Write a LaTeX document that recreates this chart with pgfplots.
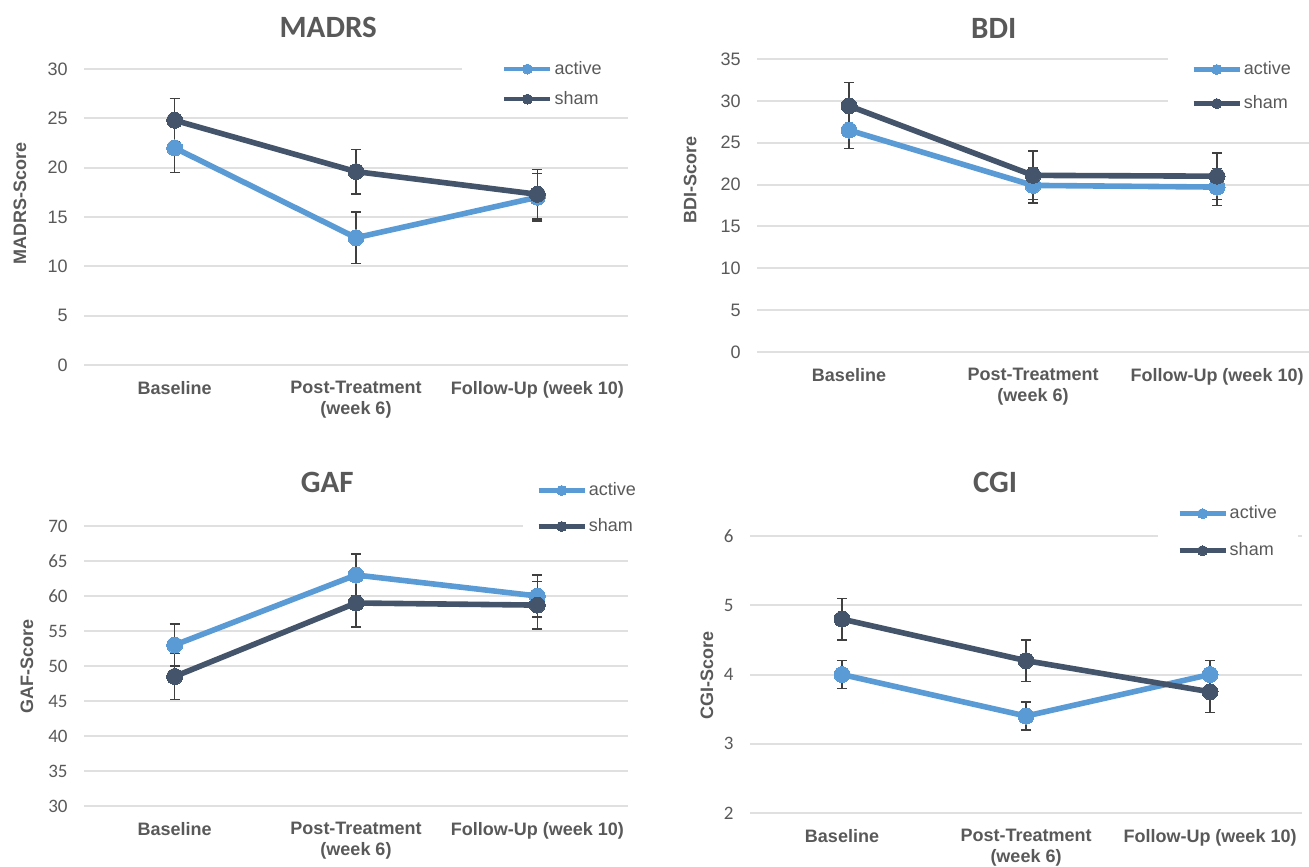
\documentclass[border=0pt]{standalone}
\usepackage{fontspec}
\setmainfont{Liberation Sans}
\newfontfamily\carlito{Carlito}
\usepackage{pgfplots}
\pgfplotsset{compat=1.18}
\definecolor{act}{HTML}{5B9BD5}
\definecolor{sham}{HTML}{44546A}
\definecolor{txt}{HTML}{595959}
\definecolor{grd}{HTML}{E0E0E0}
\definecolor{err}{HTML}{404040}
\pgfplotsset{
 panel/.style={
  scale only axis, anchor=south west,
  xmin=-0.5, xmax=2.5,
  xtick={0,1,2},
  xticklabels={Baseline, Post-Treatment\\(week 6), Follow-Up (week 10)},
  axis line style={draw=none},
  major tick length=0pt,
  ymajorgrids, grid style={grd, line width=1pt},
  xticklabel style={font=\fontsize{9}{10.5}\selectfont\bfseries, text=txt, align=center, inner sep=0pt, yshift=-8pt},
  yticklabel style={text=txt, inner sep=0pt, xshift=-8pt},
  title style={font=\carlito\bfseries\fontsize{15.5}{18}\selectfont, text=txt, anchor=center, inner sep=0pt},
  ylabel style={font=\bfseries\fontsize{9}{10}\selectfont, text=txt, anchor=center, inner sep=0pt},
  legend style={draw=none, fill=white, font=\fontsize{9}{10}\selectfont, text=txt, anchor=center, legend cell align=left, inner ysep=4pt, nodes={inner sep=1pt}},
  legend image code/.code={\draw[#1, line width=2.2pt, mark size=2.5pt, mark repeat=2, mark phase=2] plot coordinates {(0pt,0pt) (11.5pt,0pt) (23pt,0pt)};},
  /pgf/number format/assume math mode=true,
 },
 series/.style={line width=2.8pt, mark=*, mark size=4pt, mark options={solid, line width=0pt},
  error bars/.cd, y dir=both, y explicit,
  error bar style={color=err, line width=0.8pt},
  error mark options={rotate=90, color=err, line width=0.8pt, mark size=2.5pt}},
}
\begin{document}
\begin{tikzpicture}
\useasboundingbox (0,0) rectangle (654.5pt,433pt);
% MADRS
\begin{axis}[panel, at={(42pt,250.5pt)}, width=272pt, height=148pt,
  ymin=0, ymax=30, ytick={0,5,...,30},
  yticklabel style={font=\fontsize{9}{10}\selectfont},
  title={MADRS}, title style={at={(axis description cs:0.449,1)}, yshift=15pt},
  ylabel={MADRS-Score}, ylabel style={at={(axis description cs:-0.118,0.547)}},
  legend style={at={(axis description cs:0.862,0.949)}, inner xsep=20pt, row sep=5pt}]
\addplot[act, series] coordinates {(0,22.0) +- (0,2.5) (1,12.9) +- (0,2.6) (2,17.0) +- (0,2.4)};
\addplot[sham, series] coordinates {(0,24.8) +- (0,2.2) (1,19.6) +- (0,2.25) (2,17.3) +- (0,2.5)};
\legend{active,sham}
\end{axis}
% BDI
\begin{axis}[panel, at={(378.5pt,257pt)}, width=276pt, height=146.5pt,
  ymin=0, ymax=35, ytick={0,5,...,35},
  yticklabel style={font=\fontsize{9}{10}\selectfont},
  title={BDI}, title style={at={(axis description cs:0.429,1)}, yshift=9.5pt},
  ylabel={BDI-Score}, ylabel style={at={(axis description cs:-0.121,0.587)}},
  legend style={at={(axis description cs:0.879,0.906)}, inner xsep=12pt, row sep=7pt}]
\addplot[act, series] coordinates {(0,26.5) +- (0,2.2) (1,19.9) +- (0,2.1) (2,19.7) +- (0,2.2)};
\addplot[sham, series] coordinates {(0,29.4) +- (0,2.8) (1,21.1) +- (0,2.9) (2,21.0) +- (0,2.8)};
\legend{active,sham}
\end{axis}
% GAF
\begin{axis}[panel, at={(42pt,30pt)}, width=272pt, height=140pt,
  ymin=30, ymax=70, ytick={30,35,...,70},
  yticklabel style={font=\carlito\fontsize{9.5}{11}\selectfont},
  title={GAF}, title style={at={(axis description cs:0.447,1)}, yshift=16pt},
  ylabel={GAF-Score}, ylabel style={at={(axis description cs:-0.105,0.5)}},
  legend style={at={(axis description cs:0.925,1.0625)}, inner xsep=6.5pt, row sep=8pt}]
\addplot[act, series] coordinates {(0,53.0) +- (0,3.0) (1,63.0) +- (0,3.0) (2,60.0) +- (0,3.0)};
\addplot[sham, series] coordinates {(0,48.5) +- (0,3.3) (1,59.0) +- (0,3.4) (2,58.7) +- (0,3.4)};
\legend{active,sham}
\end{axis}
% CGI
\begin{axis}[panel, at={(375pt,26.5pt)}, width=276pt, height=138.5pt,
  ymin=2, ymax=6, ytick={2,3,...,6},
  yticklabel style={font=\carlito\fontsize{9.5}{11}\selectfont},
  title={CGI}, title style={at={(axis description cs:0.444,1)}, yshift=21pt},
  ylabel={CGI-Score}, ylabel style={at={(axis description cs:-0.078,0.498)}},
  legend style={at={(axis description cs:0.866,1.014)}, inner xsep=9.5pt, row sep=8.5pt}]
\addplot[act, series] coordinates {(0,4.0) +- (0,0.2) (1,3.4) +- (0,0.2) (2,4.0) +- (0,0.2)};
\addplot[sham, series] coordinates {(0,4.8) +- (0,0.3) (1,4.2) +- (0,0.3) (2,3.75) +- (0,0.3)};
\legend{active,sham}
\end{axis}
\end{tikzpicture}
\end{document}
